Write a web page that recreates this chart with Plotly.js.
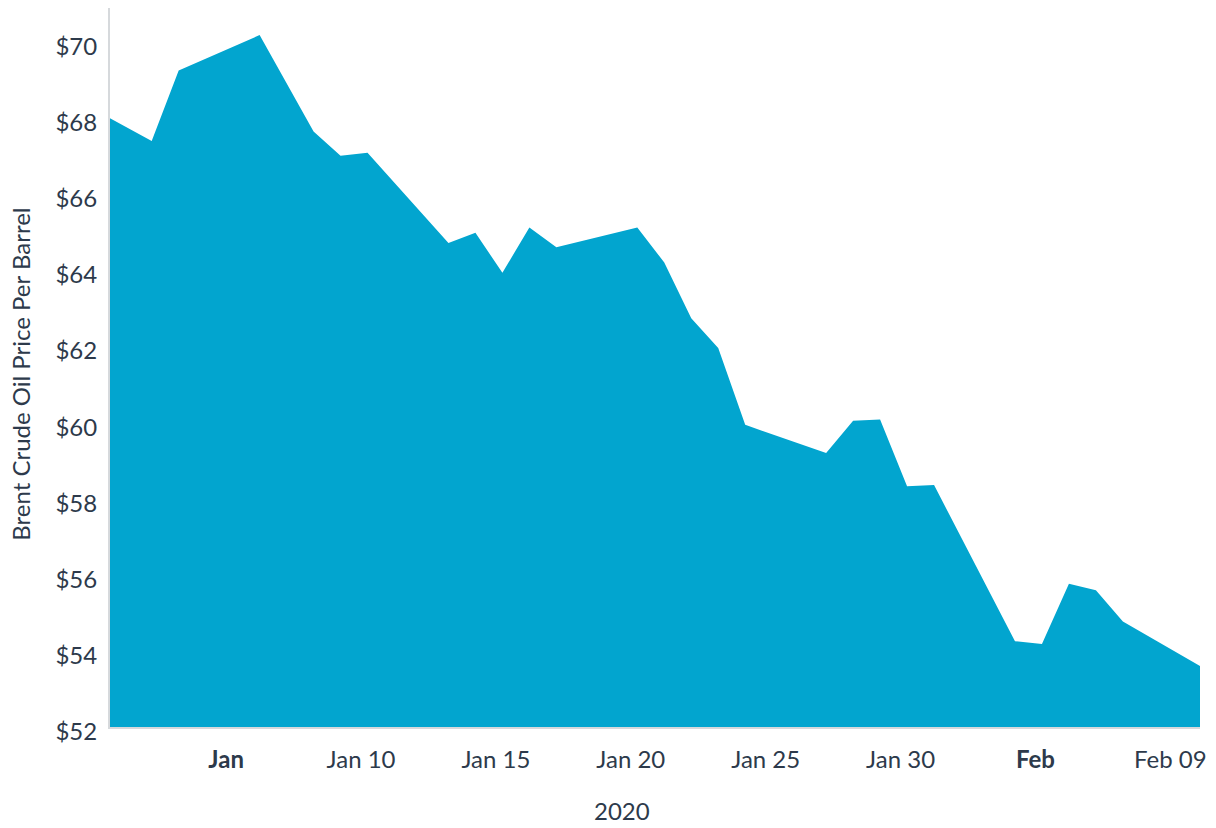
<!DOCTYPE html>
<html>
<head>
<meta charset="utf-8">
<script src="https://cdn.plot.ly/plotly-3.0.1.min.js"></script>
<style>
  html, body { margin: 0; padding: 0; background: #ffffff; }
  #chart { width: 1216px; height: 828px; }
</style>
</head>
<body>
<div id="chart"></div>
<script>
// Trading days shown on the chart (first and last fall just outside the visible range)
const dates = [
  '2019-12-31', '2020-01-02', '2020-01-03', '2020-01-06', '2020-01-08', '2020-01-09', '2020-01-10',
  '2020-01-13', '2020-01-14', '2020-01-15', '2020-01-16', '2020-01-17',
  '2020-01-20', '2020-01-21', '2020-01-22', '2020-01-23', '2020-01-24',
  '2020-01-27', '2020-01-28', '2020-01-29', '2020-01-30', '2020-01-31',
  '2020-02-03', '2020-02-04', '2020-02-05', '2020-02-06', '2020-02-07', '2020-02-10'
];
// Brent crude price per barrel (USD)
const prices = [
  68.15, 67.38, 69.23, 70.16, 67.63, 66.99, 67.07,
  64.70, 64.97, 63.92, 65.11, 64.59,
  65.11, 64.19, 62.73, 61.95, 59.93,
  59.19, 60.04, 60.07, 58.32, 58.35,
  54.25, 54.18, 55.76, 55.59, 54.77, 53.54
];
// x-axis tick dates and labels
const tickDates = ['2020-01-05', '2020-01-10', '2020-01-15', '2020-01-20', '2020-01-25', '2020-01-30', '2020-02-04', '2020-02-09'];
const tickLabels = ['<b>Jan</b>', 'Jan 10', 'Jan 15', 'Jan 20', 'Jan 25', 'Jan 30', '<b>Feb</b>', 'Feb 09'];
// y-axis ticks
const yTicks = [52, 54, 56, 58, 60, 62, 64, 66, 68, 70];
const yTickLabels = yTicks.map(v => '$' + v);

const xTitle = '2020';
const yTitle = 'Brent Crude Oil Price Per Barrel';

// helpers: shift a date string by hours and format for plotly
function fmt(ms) {
  const d = new Date(ms);
  const p = n => String(n).padStart(2, '0');
  return d.getUTCFullYear() + '-' + p(d.getUTCMonth() + 1) + '-' + p(d.getUTCDate()) + ' ' +
         p(d.getUTCHours()) + ':' + p(d.getUTCMinutes());
}
function shift(dateStr, hours) {
  const [y, m, dd] = dateStr.split('-').map(Number);
  return fmt(Date.UTC(y, m - 1, dd) + hours * 3600000);
}
const TICK_SHIFT_H = -5.76;

const FONT = 'Lato, "Open Sans", sans-serif';
const TEXT = '#2d3a4b';
const FS = 24;

const trace = {
  type: 'scatter',
  mode: 'lines',
  x: dates,
  y: prices,
  fill: 'tozeroy',
  fillcolor: '#02a5cf',
  line: { color: '#02a5cf', width: 0 },
  hoverinfo: 'skip'
};

const layout = {
  width: 1216,
  height: 828,
  margin: { l: 110, r: 16, t: 8, b: 101 },
  paper_bgcolor: '#ffffff',
  plot_bgcolor: '#ffffff',
  showlegend: false,
  font: { family: FONT, color: TEXT, size: FS },
  xaxis: {
    type: 'date',
    range: [shift('2019-12-31', 10.9), shift('2020-02-09', 20.6)],
    tickmode: 'array',
    tickvals: tickDates.map(d => shift(d, TICK_SHIFT_H)),
    ticktext: tickLabels,
    ticks: '',
    showgrid: false,
    zeroline: false,
    showline: true,
    linecolor: '#d6d9dc',
    linewidth: 2,
    tickfont: { family: FONT, color: TEXT, size: FS },
    ticklabelstandoff: 10
  },
  yaxis: {
    range: [52, 70.87],
    tickmode: 'array',
    tickvals: yTicks,
    ticktext: yTickLabels,
    ticks: '',
    showgrid: false,
    zeroline: false,
    showline: true,
    linecolor: '#d6d9dc',
    linewidth: 2,
    tickfont: { family: FONT, color: TEXT, size: FS },
    ticklabelstandoff: 6,
    ticklabelshift: 5
  },
  annotations: [
    {
      text: xTitle, xref: 'paper', yref: 'paper',
      x: 0.4695, y: 0, yshift: -83, xanchor: 'center', yanchor: 'middle',
      showarrow: false, font: { family: FONT, color: TEXT, size: FS }
    },
    {
      text: yTitle, xref: 'paper', yref: 'paper',
      x: 0, xshift: -89, y: 0.49, xanchor: 'center', yanchor: 'middle',
      textangle: -90, showarrow: false, font: { family: FONT, color: TEXT, size: FS }
    }
  ]
};

Plotly.newPlot('chart', [trace], layout, { displayModeBar: false, staticPlot: true });
</script>
</body>
</html>
